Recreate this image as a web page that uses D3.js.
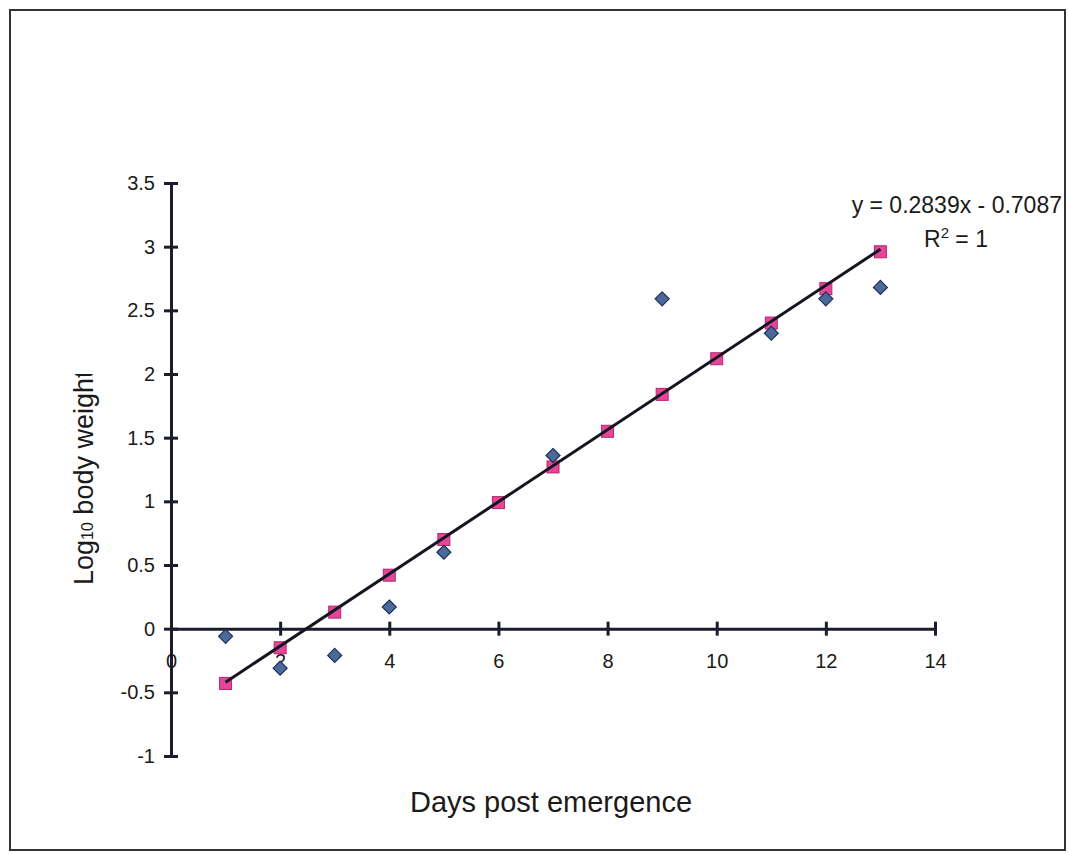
<!DOCTYPE html>
<html>
<meta charset="utf-8">
<style>
body { margin: 0; background: #fff; }
text { font-family: Arial, "Liberation Sans", sans-serif; fill: #1a1a1a; }
</style>
<body>
</body>
<script src="https://cdn.jsdelivr.net/npm/d3@7"></script>
<script>

// days post emergence
var days = [1, 2, 3, 4, 5, 6, 7, 8, 9, 10, 11, 12, 13];
// observed log10 body weight (null = hidden under the fitted marker)
var observed = [-0.06, -0.31, -0.21, 0.17, 0.60, null, 1.36, null, 2.59, null, 2.32, 2.59, 2.68];
// fitted values, pink squares
var fitted = [-0.43, -0.15, 0.13, 0.42, 0.70, 0.99, 1.27, 1.55, 1.84, 2.12, 2.40, 2.67, 2.96];
// trend line ends
var trendX = [1, 13];
var trendY = [-0.42, 2.98];

var xTicks = [0, 2, 4, 6, 8, 10, 12, 14];
var yTicks = [-1, -0.5, 0, 0.5, 1, 1.5, 2, 2.5, 3, 3.5];

var width = 1069,
    height = 854;

var svg = d3.select("body").append("svg")
    .attr("width", width)
    .attr("height", height);

// outer frame
svg.append("rect")
  .attr("x", 10).attr("y", 10)
  .attr("width", 1055).attr("height", 840)
  .attr("fill", "none")
  .attr("stroke", "#333")
  .attr("stroke-width", 2);

var x = d3.scaleLinear().domain([0, 14]).range([171, 935]);
var y = d3.scaleLinear().domain([-1, 3.5]).range([756, 183]);

var axisColor = "#1c1c30";

// y axis at x = 0
var yAxis = svg.append("g")
  .attr("transform", "translate(" + x(0) + ",0)")
  .call(d3.axisLeft(y).tickValues(yTicks).tickSize(7).tickSizeOuter(0)
        .tickPadding(9).tickFormat(function (d) { return String(d); }));

// x axis at y = 0
var xAxis = svg.append("g")
  .attr("transform", "translate(0," + y(0) + ")")
  .call(d3.axisBottom(x).tickValues(xTicks).tickSize(7).tickSizeOuter(0)
        .tickPadding(18).tickFormat(function (d) { return String(d); }));

yAxis.selectAll(".tick line").attr("x1", 7);
xAxis.selectAll(".tick line").attr("y1", -7);

[xAxis, yAxis].forEach(function (g) {
  g.attr("font-size", 20).attr("font-family", "Arial, 'Liberation Sans', sans-serif");
  g.select(".domain").attr("stroke", axisColor).attr("stroke-width", 3);
  g.selectAll(".tick line").attr("stroke", axisColor).attr("stroke-width", 3);
  g.selectAll(".tick text").attr("fill", "#1a1a1a");
});

// observed diamonds
var obsData = days.map(function (d, i) { return { x: d, y: observed[i] }; })
  .filter(function (d) { return d.y !== null; });

// fitted squares
var fitData = days.map(function (d, i) { return { x: d, y: fitted[i] }; });

svg.append("g").selectAll("rect")
  .data(fitData).enter()
  .append("rect")
  .attr("x", function (d) { return x(d.x) - 6; })
  .attr("y", function (d) { return y(d.y) - 6; })
  .attr("width", 12).attr("height", 12)
  .attr("fill", "#e4469a")
  .attr("stroke", "#b72470")
  .attr("stroke-width", 1);

svg.append("g").selectAll("path")
  .data(obsData).enter()
  .append("path")
  .attr("d", "M0,-7 L7,0 L0,7 L-7,0 Z")
  .attr("transform", function (d) { return "translate(" + x(d.x) + "," + y(d.y) + ")"; })
  .attr("fill", "#4b6a9a")
  .attr("stroke", "#1e2f5c")
  .attr("stroke-width", 1.2);

// trend line
var line = d3.line().x(function (d) { return x(d[0]); }).y(function (d) { return y(d[1]); });
svg.append("path")
  .datum(d3.zip(trendX, trendY))
  .attr("d", line)
  .attr("fill", "none")
  .attr("stroke", "#15151f")
  .attr("stroke-width", 3);

// equation
svg.append("text")
  .attr("x", 1062).attr("y", 213)
  .attr("text-anchor", "end")
  .attr("font-size", 23)
  .text("y = 0.2839x - 0.7087");

var r2 = svg.append("text")
  .attr("x", 924).attr("y", 247)
  .attr("font-size", 23);
r2.append("tspan").text("R");
r2.append("tspan").attr("font-size", 15).attr("dy", -9).text("2");
r2.append("tspan").attr("dy", 9).text(" = 1");

// axis titles
svg.append("text")
  .attr("x", 551).attr("y", 812)
  .attr("text-anchor", "middle")
  .attr("font-size", 29)
  .text("Days post emergence");

svg.append("clipPath").attr("id", "ylabclip")
  .append("rect").attr("x", 40).attr("y", 374).attr("width", 80).attr("height", 300);

var ylab = svg.append("g")
  .attr("clip-path", "url(#ylabclip)")
  .append("text")
  .attr("transform", "translate(93,585) rotate(-90)")
  .attr("font-size", 27);
ylab.append("tspan").text("Log");
ylab.append("tspan").attr("font-size", 16).text("10");
ylab.append("tspan").text(" body weight");

</script>
</html>
